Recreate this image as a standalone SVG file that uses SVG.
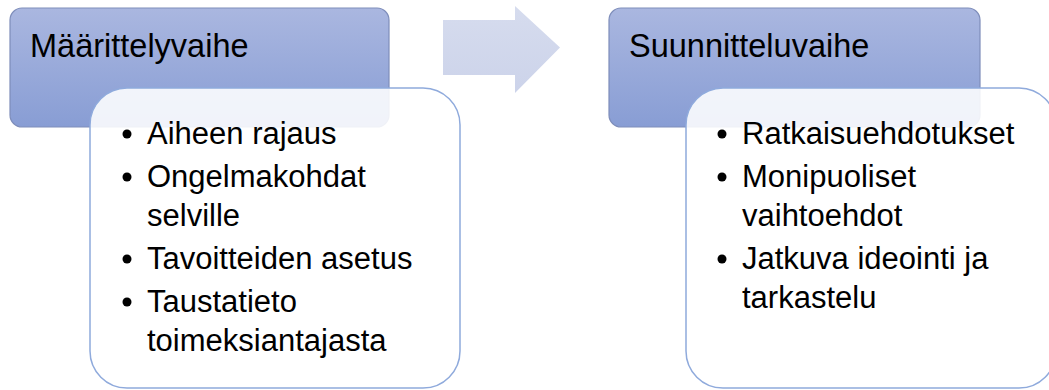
<svg xmlns="http://www.w3.org/2000/svg" width="1049" height="390" viewBox="0 0 1049 390">
<defs>
<linearGradient id="blueGrad" x1="0" y1="0" x2="0" y2="1">
<stop offset="0" stop-color="#AAB7E0"/>
<stop offset="1" stop-color="#889DD4"/>
</linearGradient>
<linearGradient id="arrowGrad" x1="0" y1="0" x2="0" y2="1">
<stop offset="0" stop-color="#D6DCEE"/>
<stop offset="1" stop-color="#CCD3EA"/>
</linearGradient>
<style>
.head{fill:url(#blueGrad);stroke:#7E8DBA;stroke-width:1.2}
.body{fill:#FFFFFF;fill-opacity:0.88;stroke:#8FAADC;stroke-width:1.5}
.title{font-family:"Liberation Sans",Arial,sans-serif;font-size:32.5px;fill:#000}
.item{font-family:"Liberation Sans",Arial,sans-serif;font-size:31px;fill:#000}
.dot{fill:#000}
</style>
</defs>
<rect width="1049" height="390" fill="#FFFFFF"/>
<g id="connectors">
<path d="M443,20 H515 V6 L560,47.5 L515,93 V75 H443 Z" fill="url(#arrowGrad)"/>
</g>
<g id="node-maarittely">
<rect class="head" x="10" y="8" width="379" height="119" rx="12"/>
<text class="title" x="30" y="57">Määrittelyvaihe</text>
<rect class="body" x="90" y="88" width="370" height="300" rx="37"/>
<circle class="dot" cx="127" cy="134" r="4.5"/>
<text class="item" x="147" y="144">Aiheen rajaus</text>
<circle class="dot" cx="127" cy="177" r="4.5"/>
<text class="item" x="147" y="187">Ongelmakohdat</text>
<text class="item" x="147" y="226">selville</text>
<circle class="dot" cx="127" cy="259" r="4.5"/>
<text class="item" x="147" y="269">Tavoitteiden asetus</text>
<circle class="dot" cx="127" cy="302" r="4.5"/>
<text class="item" x="147" y="312">Taustatieto</text>
<text class="item" x="147" y="351">toimeksiantajasta</text>
</g>
<g id="node-suunnittelu">
<rect class="head" x="609" y="8" width="371" height="119" rx="12"/>
<text class="title" x="629" y="57">Suunnitteluvaihe</text>
<rect class="body" x="686" y="88" width="370" height="300" rx="37"/>
<circle class="dot" cx="722" cy="134" r="4.5"/>
<text class="item" x="742" y="144">Ratkaisuehdotukset</text>
<circle class="dot" cx="722" cy="177" r="4.5"/>
<text class="item" x="742" y="187">Monipuoliset</text>
<text class="item" x="742" y="226">vaihtoehdot</text>
<circle class="dot" cx="722" cy="259" r="4.5"/>
<text class="item" x="742" y="269">Jatkuva ideointi ja</text>
<text class="item" x="742" y="308">tarkastelu</text>
</g>
</svg>
